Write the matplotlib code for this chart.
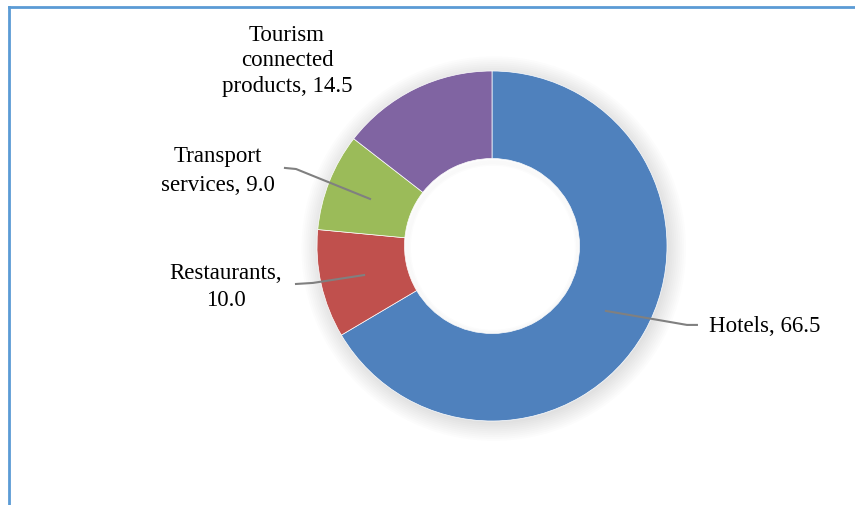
import matplotlib.pyplot as plt
from matplotlib.lines import Line2D
from matplotlib.patches import Circle

labels = ['Hotels, 66.5', 'Restaurants,\n10.0', 'Transport\nservices, 9.0', 'Tourism\nconnected\nproducts, 14.5']
values = [66.5, 10.0, 9.0, 14.5]
colors = ['#4F81BD', '#C0504D', '#9BBB59', '#8064A2']

W, H = 855, 506
fig = plt.figure(figsize=(W / 100, H / 100), dpi=100)
fig.patch.set_facecolor('white')

# chart frame (left and top edges only visible)
fig.add_artist(Line2D([9 / W, 9 / W], [0, 1 - 8 / H], color='#5B9BD5', lw=2))
fig.add_artist(Line2D([9 / W, 1], [1 - 8 / H, 1 - 8 / H], color='#5B9BD5', lw=2))

cx, cy, r = 492, 247, 175
ax = fig.add_axes([(cx - r) / W, (H - cy - r) / H, 2 * r / W, 2 * r / H])

# soft shadow
for k in range(10):
    ax.add_patch(Circle((0.01, -0.015), 1.0 + 0.011 * k, color='black', alpha=0.011, lw=0, zorder=0,
                        clip_on=False))
ax.add_patch(Circle((0, 0), 0.5, color='white', lw=0, zorder=0.5))
for k in range(4):
    ax.add_patch(Circle((0.005, -0.01), 0.5 - 0.008 * k, fill=False, ec='black', alpha=0.012, lw=2,
                        zorder=0.6))

ax.pie(values, colors=colors, startangle=90, counterclock=False, radius=1,
       wedgeprops=dict(width=0.5, edgecolor='white', linewidth=0.5))
ax.set_xlim(-1, 1)
ax.set_ylim(-1, 1)
ax.set_aspect('equal')
ax.axis('off')

font = dict(family='Liberation Serif', fontsize=16.5, color='black', linespacing=1.35)
lc = '#808080'

# Hotels
ax.plot([0.651, 1.114, 1.171], [-0.371, -0.451, -0.451], color=lc, lw=1.5, clip_on=False)
ax.text(1.24, -0.457, labels[0], ha='left', va='center', **font)
# Restaurants
ax.plot([-0.731, -1.023, -1.12], [-0.166, -0.211, -0.217], color=lc, lw=1.5, clip_on=False)
ax.text(-1.52, -0.229, labels[1], ha='center', va='center', multialignment='center', **font)
# Transport
ax.plot([-0.697, -1.12, -1.183], [0.269, 0.44, 0.446], color=lc, lw=1.5, clip_on=False)
ax.text(-1.566, 0.434, labels[2], ha='center', va='center', multialignment='center',
        **dict(font, linespacing=1.45))
# Tourism
ax.text(-1.171, 1.063, labels[3], ha='center', va='center', multialignment='center',
        **dict(font, linespacing=1.3))

fig.savefig('out.png', dpi=100, facecolor='white')
